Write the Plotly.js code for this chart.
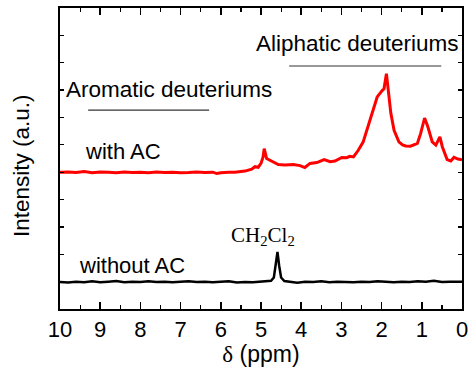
<!DOCTYPE html>
<html>
<head>
<meta charset="utf-8">
<script src="https://cdn.plot.ly/plotly-3.0.1.min.js"></script>
<style>html,body{margin:0;padding:0;background:#fff;}#chart{width:468px;height:367px;}</style>
</head>
<body>
<div id="chart"></div>
<script>
// Chemical shift (ppm) and intensity (a.u., offset)
const withAC_ppm = [10.0, 9.8, 9.6, 9.4, 9.2, 9.0, 8.8, 8.6, 8.4, 8.2, 8.0, 7.8, 7.6, 7.4, 7.2, 7.0, 6.8, 6.6, 6.4, 6.2, 6.1, 6.0, 5.8, 5.65, 5.4, 5.23, 5.15, 5.07, 5.0, 4.95, 4.92, 4.86, 4.73, 4.57, 4.40, 4.20, 4.03, 3.91, 3.78, 3.61, 3.43, 3.28, 3.16, 2.99, 2.87, 2.79, 2.70, 2.58, 2.46, 2.31, 2.19, 2.11, 1.98, 1.94, 1.88, 1.84, 1.77, 1.69, 1.57, 1.48, 1.40, 1.28, 1.11, 1.03, 0.93, 0.85, 0.74, 0.65, 0.55, 0.49, 0.37, 0.28, 0.20, 0.10, 0.03, 0.0];
const withAC_int = [5.00, 5.01, 4.99, 5.02, 4.98, 5.01, 5.00, 4.98, 5.01, 4.99, 5.00, 4.98, 5.01, 4.99, 5.00, 4.98, 4.99, 5.01, 4.99, 5.00, 4.95, 4.98, 5.00, 5.00, 5.04, 5.11, 5.20, 5.18, 5.32, 5.55, 5.86, 5.50, 5.40, 5.28, 5.26, 5.28, 5.24, 5.17, 5.32, 5.35, 5.46, 5.38, 5.41, 5.54, 5.53, 5.58, 5.56, 5.80, 6.10, 6.78, 7.38, 7.75, 7.99, 8.05, 8.60, 7.99, 7.15, 6.53, 6.11, 6.00, 5.96, 5.95, 6.05, 6.41, 6.98, 6.66, 6.11, 5.99, 6.29, 5.93, 5.46, 5.41, 5.54, 5.48, 5.46, 5.45];

const withoutAC_ppm = [10.0, 9.8, 9.6, 9.4, 9.2, 9.0, 8.8, 8.6, 8.4, 8.2, 8.0, 7.8, 7.6, 7.4, 7.2, 7.0, 6.8, 6.6, 6.4, 6.2, 6.0, 5.8, 5.6, 5.4, 5.2, 5.0, 4.85, 4.75, 4.68, 4.63, 4.59, 4.55, 4.50, 4.42, 4.3, 4.1, 3.9, 3.7, 3.5, 3.3, 3.1, 2.9, 2.7, 2.5, 2.3, 2.1, 1.9, 1.7, 1.5, 1.3, 1.1, 0.9, 0.7, 0.5, 0.3, 0.1, 0.0];
const withoutAC_int = [0.99, 0.97, 1.00, 0.98, 1.01, 0.98, 1.00, 1.02, 0.98, 1.00, 0.99, 1.01, 0.99, 1.00, 0.98, 1.00, 1.01, 0.99, 1.00, 0.98, 0.99, 1.01, 0.97, 0.99, 0.98, 1.00, 1.00, 1.03, 1.15, 1.60, 2.09, 1.60, 1.15, 1.02, 1.00, 0.96, 1.00, 0.99, 1.01, 0.98, 1.00, 0.99, 0.98, 1.00, 0.99, 1.01, 0.99, 0.98, 1.00, 0.99, 1.01, 1.00, 1.03, 0.99, 1.00, 0.99, 1.00];

const xTicks = [10, 9, 8, 7, 6, 5, 4, 3, 2, 1, 0];
const xTitle = '<span style="font-family:Liberation Serif">δ</span> (ppm)';
const yTitle = 'Intensity (a.u.)';
const labels = {
  aromatic: 'Aromatic deuteriums',
  aliphatic: 'Aliphatic deuteriums',
  withAC: 'with AC',
  withoutAC: 'without AC',
  solvent: 'CH<sub>2</sub>Cl<sub>2</sub>'
};

const sans = 'Liberation Sans, Arial, sans-serif';
const serif = 'Liberation Serif, Times New Roman, serif';

const traces = [
  {x: withAC_ppm, y: withAC_int, mode: 'lines', line: {color: '#ff0000', width: 3}, hoverinfo: 'skip'},
  {x: withoutAC_ppm, y: withoutAC_int, mode: 'lines', line: {color: '#000000', width: 2.5}, hoverinfo: 'skip'}
];

const layout = {
  width: 468, height: 367,
  margin: {l: 60, r: 6, t: 8, b: 58},
  paper_bgcolor: '#fff', plot_bgcolor: '#fff',
  showlegend: false,
  font: {family: sans, color: '#000'},
  xaxis: {
    range: [10, 0], tickvals: xTicks, ticktext: xTicks.map(String),
    ticks: 'inside', ticklen: 7, tickwidth: 1.5, tickcolor: '#000',
    ticklabeloverflow: 'allow',
    minor: {dtick: 0.5, ticks: 'inside', ticklen: 4, tickwidth: 1.2, tickcolor: '#000', showgrid: false},
    showline: true, linewidth: 1.8, linecolor: '#000', mirror: 'ticks',
    showgrid: false, zeroline: false,
    tickfont: {family: sans, size: 22, color: '#000'},
    title: {text: xTitle, font: {family: sans, size: 23, color: '#000'}, standoff: 1}
  },
  yaxis: {
    range: [0, 11], dtick: 1, tick0: 0,
    ticks: 'inside', ticklen: 4, tickwidth: 1.2, tickcolor: '#000',
    showticklabels: false,
    showline: true, linewidth: 1.8, linecolor: '#000', mirror: 'ticks',
    showgrid: false, zeroline: false
  },
  shapes: [
    {type: 'line', xref: 'x', yref: 'y', x0: 9.30, x1: 6.29, y0: 7.27, y1: 7.27, line: {color: '#333', width: 1.2}},
    {type: 'line', xref: 'x', yref: 'y', x0: 4.30, x1: 0.515, y0: 8.88, y1: 8.88, line: {color: '#333', width: 1.2}}
  ],
  annotations: [
    {text: yTitle, textangle: -90, x: -0.097, y: 0.475, xref: 'paper', yref: 'paper', xanchor: 'center', yanchor: 'middle', showarrow: false, font: {family: sans, size: 22.5, color: '#000'}},
    {text: labels.aromatic, x: 7.30, y: 8.03, xref: 'x', yref: 'y', showarrow: false, font: {family: sans, size: 22.5, color: '#000'}},
    {text: labels.aliphatic, x: 2.61, y: 9.72, xref: 'x', yref: 'y', showarrow: false, font: {family: sans, size: 22.5, color: '#000'}},
    {text: labels.withAC, x: 8.43, y: 5.74, xref: 'x', yref: 'y', showarrow: false, font: {family: sans, size: 22, color: '#000'}},
    {text: labels.withoutAC, x: 8.22, y: 1.58, xref: 'x', yref: 'y', showarrow: false, font: {family: sans, size: 22, color: '#000'}},
    {text: labels.solvent, x: 4.94, y: 2.66, xref: 'x', yref: 'y', showarrow: false, font: {family: serif, size: 21, color: '#000'}}
  ]
};

Plotly.newPlot('chart', traces, layout, {staticPlot: true, displayModeBar: false});
</script>
</body>
</html>
